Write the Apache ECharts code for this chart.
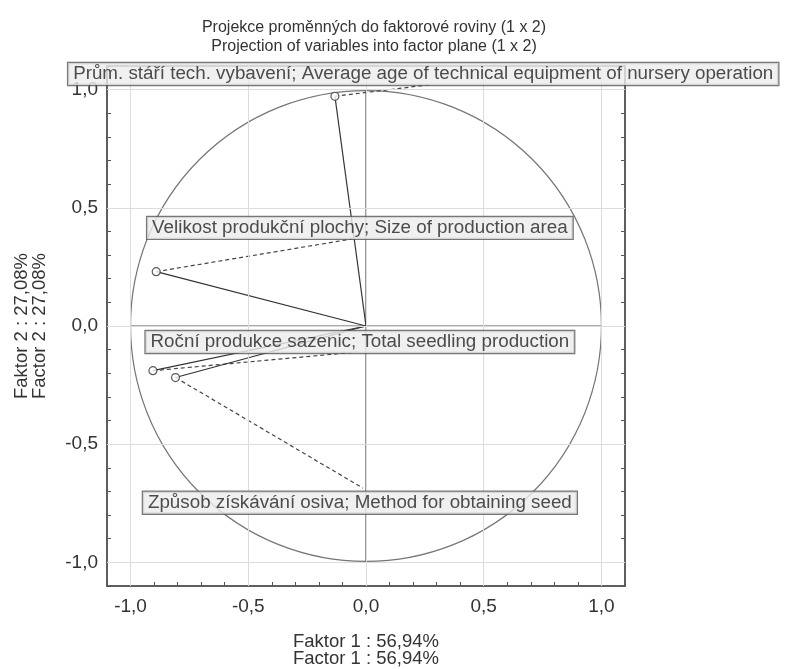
<!DOCTYPE html>
<html>
<head>
<meta charset="utf-8">
<script src="https://cdn.jsdelivr.net/npm/echarts@6/dist/echarts.min.js"></script>
<style>html,body{margin:0;padding:0;background:#fff}#c{width:792px;height:669px}</style>
</head>
<body>
<div id="c"></div>
<script>
// ---- data ----
const varNames = [
  'Prům. stáří tech. vybavení; Average age of technical equipment of nursery operation',
  'Velikost produkční plochy; Size of production area',
  'Roční produkce sazenic; Total seedling production',
  'Způsob získávání osiva; Method for obtaining seed'
];
const factor1 = [-0.132, -0.891, -0.905, -0.809];
const factor2 = [0.972, 0.230, -0.189, -0.218];
const axisTickValues = [-1.0, -0.5, 0.0, 0.5, 1.0];
const titleLines = ['Projekce proměnných do faktorové roviny (1 x 2)', 'Projection of variables into factor plane (1 x 2)'];
const xName = ['Faktor 1 : 56,94%', 'Factor 1 : 56,94%'];
const yName = ['Faktor 2 : 27,08%', 'Factor 2 : 27,08%'];

// ---- layout (label boxes / leader line ends, in axis units) ----
const labelCX = [0.243, -0.026, -0.026, -0.026];
const labelCY = [1.066, 0.415, -0.068, -0.748];
const leaderX = [0.272, -0.055, -0.038, -0.013];
const leaderY = [1.021, 0.369, -0.110, -0.686];

const FONT = '"Liberation Sans", Arial, sans-serif';
const fmt = v => {
  if (Math.abs(v * 2 - Math.round(v * 2)) > 1e-6) return '';
  const r = Math.round(v * 2) / 2;
  if (Math.abs(r) > 1.0001) return '';
  return r.toFixed(1).replace('.', ',').replace('-0,0', '0,0');
};

const series = [];
// reference grid lines at major values
series.push({
  type: 'line', data: [], silent: true, z: 1,
  markLine: {
    symbol: 'none', silent: true, label: {show: false},
    lineStyle: {color: '#dcdcdc', width: 1, type: 'solid'},
    data: axisTickValues.map(v => ({xAxis: v})).concat(axisTickValues.map(v => ({yAxis: v})))
  }
});
// unit circle
series.push({
  type: 'custom', z: 2, silent: true, clip: false,
  data: [[0, 0, 1]],
  renderItem: (params, api) => {
    const c = api.coord([api.value(0), api.value(1)]);
    const r = api.size([api.value(2), 0])[0];
    return {type: 'circle', shape: {cx: c[0], cy: c[1], r: r},
      style: {fill: 'none', stroke: '#757575', lineWidth: 1.2}};
  }
});
// axes cross
series.push({type: 'line', data: [[0, -1], [0, 1]], symbol: 'none', silent: true, z: 3,
  lineStyle: {color: '#555', width: 1.2}});
series.push({type: 'line', data: [[-1, 0], [1, 0]], symbol: 'none', silent: true, z: 3,
  lineStyle: {color: '#555', width: 1.2}});
// vectors and leader lines
for (let i = 0; i < varNames.length; i++) {
  series.push({type: 'line', data: [[0, 0], [factor1[i], factor2[i]]], symbol: 'none', silent: true, z: 4,
    lineStyle: {color: '#333', width: 1.2}});
  series.push({type: 'line', data: [[factor1[i], factor2[i]], [leaderX[i], leaderY[i]]], symbol: 'none', silent: true, z: 4,
    clip: false, lineStyle: {color: '#444', width: 1.2, type: [4, 3]}});
}
// points
series.push({type: 'scatter', z: 5, symbol: 'circle', symbolSize: 8, silent: true,
  itemStyle: {color: '#fff', borderColor: '#333', borderWidth: 1.2},
  data: factor1.map((x, i) => [x, factor2[i]])});
// label boxes
series.push({type: 'scatter', zlevel: 1, z: 10, symbolSize: 0, silent: true, clip: false,
  data: varNames.map((n, i) => ({value: [labelCX[i], labelCY[i]], name: n})),
  label: {show: true, position: 'inside', formatter: p => p.name,
    fontFamily: FONT, fontSize: 18.8, color: '#222', lineHeight: 20,
    backgroundColor: '#ececec', borderColor: '#555', borderWidth: 1.2,
    padding: [1, 5, 1, 5]}
});

const option = {
  animation: false,
  backgroundColor: '#fff',
  title: {
    text: titleLines.join('\n'), left: 369, top: 13, textAlign: 'center',
    textStyle: {fontFamily: FONT, fontSize: 16, fontWeight: 'normal', color: '#333', lineHeight: 19}
  },
  grid: {left: 107, right: 167, top: 66, bottom: 83, outerBoundsMode: 'none', containLabel: false,
    show: true, borderColor: '#555', borderWidth: 1.5, backgroundColor: 'transparent'},
  xAxis: [{
    type: 'value', min: -1.1, max: 1.1, interval: 0.1,
    axisLine: {show: true, onZero: false, lineStyle: {color: '#555', width: 1.5}},
    axisTick: {show: true, inside: true, length: 4, lineStyle: {color: '#555'}},
    axisLabel: {formatter: fmt, fontFamily: FONT, fontSize: 19, color: '#333', margin: 11},
    splitLine: {show: false},
    name: xName.join('\n'), nameLocation: 'middle', nameGap: 47,
    nameTextStyle: {fontFamily: FONT, fontSize: 18.5, color: '#333', lineHeight: 17}
  }],
  yAxis: [{
    type: 'value', min: -1.1, max: 1.1, interval: 0.1,
    axisLine: {show: true, onZero: false, lineStyle: {color: '#555', width: 1.5}},
    axisTick: {show: true, inside: true, length: 4, lineStyle: {color: '#555'}},
    axisLabel: {formatter: fmt, fontFamily: FONT, fontSize: 19, color: '#333', margin: 9},
    splitLine: {show: false},
    name: yName.join('\n'), nameLocation: 'middle', nameGap: 58, nameRotate: 90,
    nameTextStyle: {fontFamily: FONT, fontSize: 18.5, color: '#333', lineHeight: 18}
  }, {
    type: 'value', min: -1.1, max: 1.1, interval: 0.1, position: 'right',
    axisLine: {show: true, onZero: false, lineStyle: {color: '#555', width: 1.5}},
    axisTick: {show: true, inside: true, length: 4, lineStyle: {color: '#555'}},
    axisLabel: {show: false}, splitLine: {show: false}
  }],
  series: series
};
const chart = echarts.init(document.getElementById('c'), null, {renderer: 'canvas'});
chart.setOption(option);
</script>
</body>
</html>
